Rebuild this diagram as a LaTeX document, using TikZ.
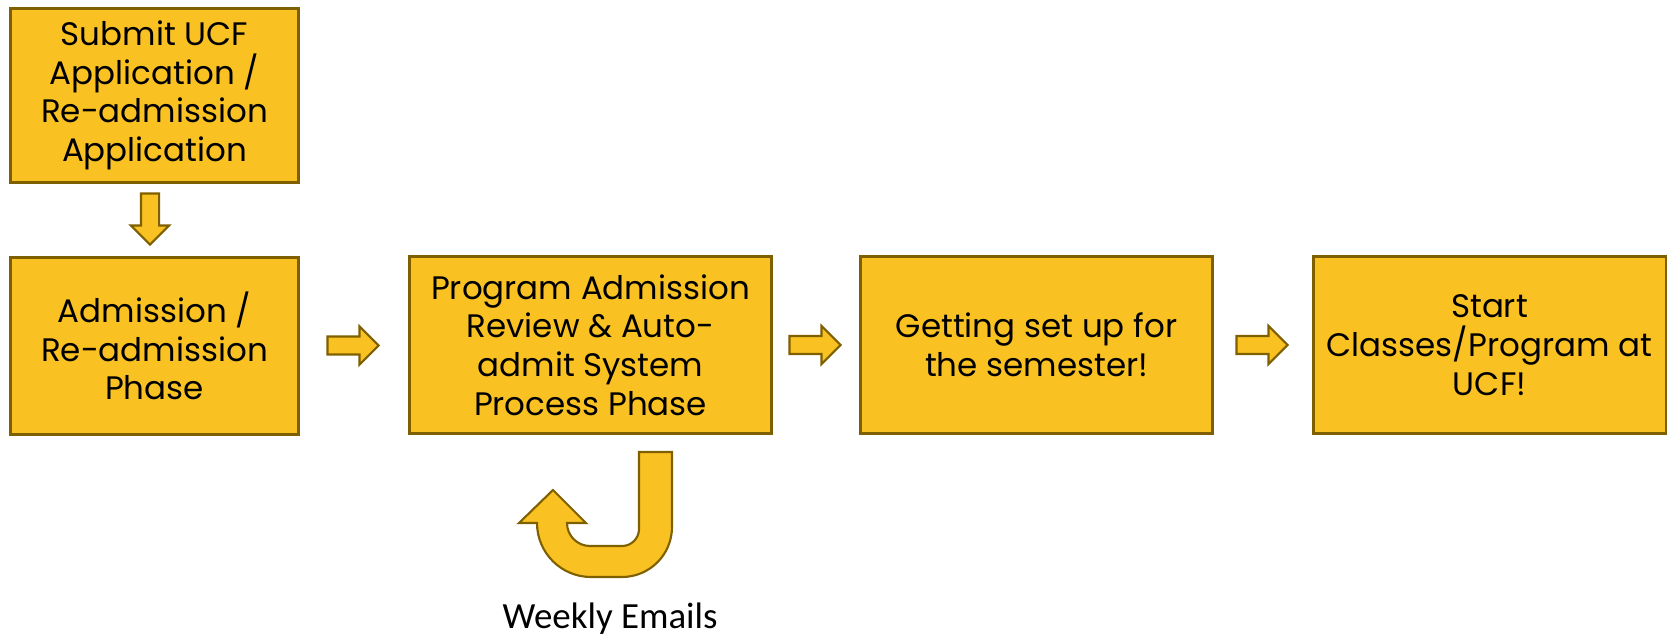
\documentclass[tikz,border=0pt]{standalone}
\usepackage{fontspec}
\setmainfont{Poppins}
\newfontfamily\calibri{Carlito}
\usetikzlibrary{calc,shapes.arrows}
\definecolor{ucfgold}{HTML}{F9C222}
\definecolor{ucfedge}{HTML}{7F6000}

\begin{document}
\begin{tikzpicture}[x=0.02cm, y=-0.02cm,
	phase/.style={draw=ucfedge, fill=ucfgold, line width=1.7pt, align=center, inner sep=0pt, font=\fontsize{18.5}{22}\selectfont},
	fatarrow/.style={single arrow, draw=ucfedge, fill=ucfgold, line width=1.2pt, inner sep=0.16cm, minimum height=1.02cm, single arrow head extend=0.2cm}]
			%%%%% START %%%%%
			\useasboundingbox (0, 0) rectangle (1675, 634);
			
			\node[phase, minimum width=5.78cm, minimum height=3.5cm] (submit) at (154.5, 95.5) {Submit UCF\\Application /\\Re-admission\\Application};
			\node[phase, minimum width=5.78cm, minimum height=3.56cm] (admit) at (154.5, 346) {Admission /\\Re-admission\\Phase};
			\node[phase, minimum width=7.26cm, minimum height=3.56cm] (review) at (590.5, 345) {Program Admission\\Review \& Auto-\\admit System\\Process Phase};
			\node[phase, minimum width=7.06cm, minimum height=3.56cm] (setup) at (1036.5, 345) {Getting set up for\\the semester!};
			\node[phase, minimum width=7.06cm, minimum height=3.56cm] (start) at (1489.5, 345) {Start\\Classes/Program at\\UCF!};
			
			\node[fatarrow, rotate=-90] (down) at ($(submit.south)!0.5!(admit.north)+(-4.5, -5.5)$) {};
			\node[fatarrow] (toreview) at ($(admit.east)!0.5!(review.west)+(-5.5, 0)$) {};
			\node[fatarrow] (tosetup) at ($(review.east)!0.5!(setup.west)+(-5.5, 0)$) {};
			\node[fatarrow] (tostart) at ($(setup.east)!0.5!(start.west)+(-5.5, 0)$) {};
			
			% u-turn under the review phase
			\draw[draw=ucfedge, fill=ucfgold, line width=1.2pt, line join=miter] (672, 452) -- (672, 527) arc (0:90:50) -- (591, 577) arc (90:180:54)
				-- (519, 523) -- (553, 490) -- (586, 523) -- (567, 523) arc (180:90:23) -- (622, 546) arc (90:0:17) -- (639, 452) -- cycle;
			\node[anchor=base, inner sep=0pt, font=\calibri\fontsize{21}{24}\selectfont] (weekly) at (610, 628) {Weekly Emails};
			
			%%%%% END %%%%%
		\end{tikzpicture}
\end{document}
